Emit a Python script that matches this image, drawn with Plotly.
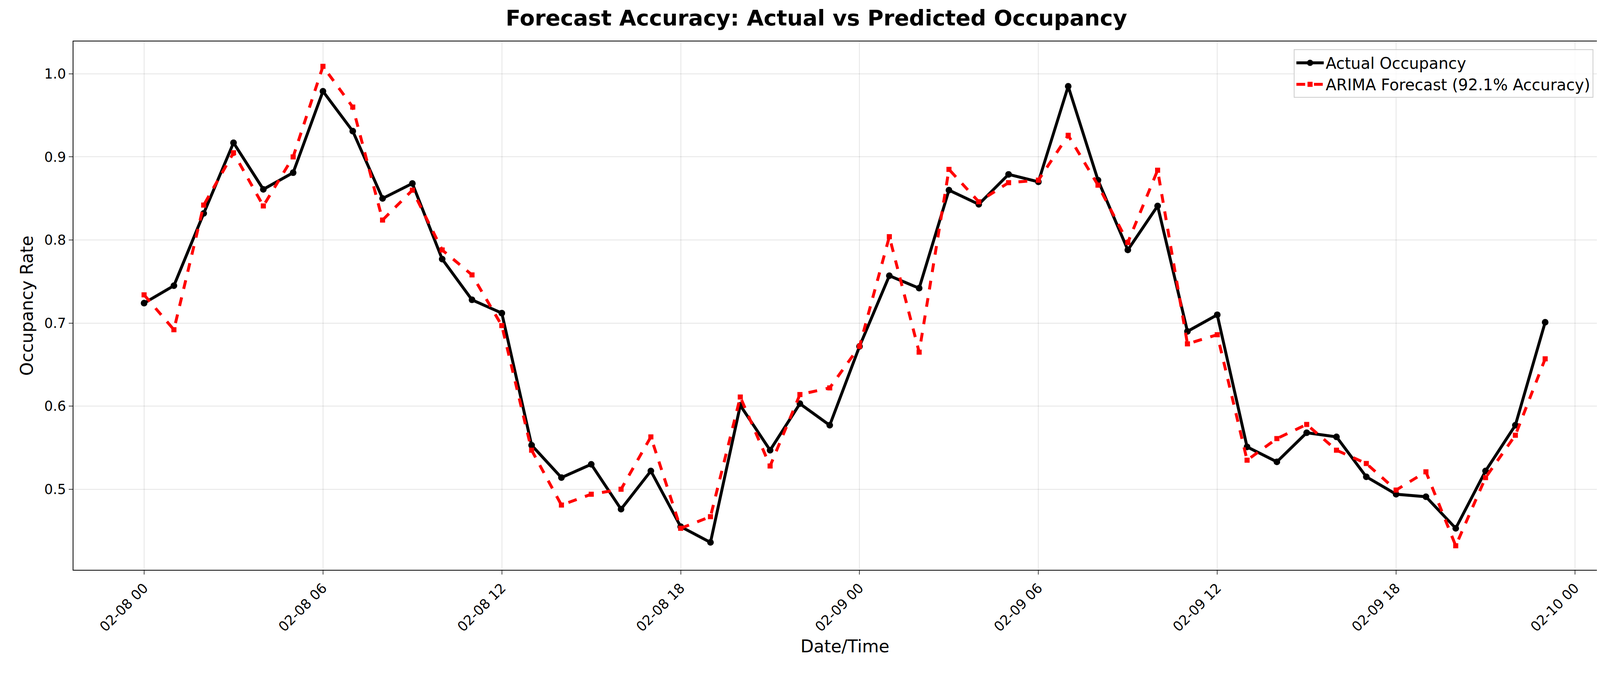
import plotly.graph_objects as go
import pandas as pd

times = pd.date_range("2024-02-08 00:00", periods=48, freq="h")
actual = [0.724,0.745,0.832,0.917,0.861,0.881,0.979,0.931,0.850,0.868,0.777,0.728,
          0.712,0.553,0.514,0.530,0.476,0.522,0.455,0.436,0.601,0.547,0.603,0.577,
          0.672,0.757,0.742,0.860,0.843,0.879,0.870,0.985,0.872,0.788,0.841,0.690,
          0.710,0.551,0.533,0.568,0.563,0.515,0.494,0.491,0.453,0.522,0.577,0.701]
forecast = [0.734,0.692,0.842,0.905,0.841,0.900,1.009,0.960,0.824,0.860,0.788,0.758,
            0.697,0.547,0.481,0.494,0.500,0.563,0.453,0.467,0.611,0.528,0.614,0.622,
            0.672,0.804,0.665,0.885,0.846,0.869,0.872,0.926,0.866,0.797,0.884,0.675,
            0.686,0.535,0.561,0.578,0.547,0.531,0.499,0.521,0.432,0.514,0.565,0.657]

fig = go.Figure()
fig.add_trace(go.Scatter(x=times, y=actual, mode="lines+markers", name="Actual Occupancy",
                         line=dict(color="black", width=7.5),
                         marker=dict(symbol="circle", size=17, color="black")))
fig.add_trace(go.Scatter(x=times, y=forecast, mode="lines+markers", name="ARIMA Forecast (92.1% Accuracy)",
                         line=dict(color="red", width=7.5, dash="dash"),
                         marker=dict(symbol="square", size=13, color="red")))

font = "DejaVu Sans"
fig.update_layout(
    width=4164, height=1768, plot_bgcolor="white", paper_bgcolor="white",
    font=dict(family=font, size=35, color="black"),
    margin=dict(l=180, r=34, t=98, b=318),
    title=dict(text="<b>Forecast Accuracy: Actual vs Predicted Occupancy</b>", x=0.5, xanchor="center",
               y=0.99, yanchor="top", font=dict(size=56)),
    legend=dict(x=0.985, y=0.985, xanchor="right", yanchor="top", bgcolor="rgba(255,255,255,0.8)",
                bordercolor="#cccccc", borderwidth=2, font=dict(size=40), itemwidth=70),
    showlegend=True,
)
fig.update_xaxes(type="date",
                 range=[pd.Timestamp("2024-02-08 00:00") - pd.Timedelta(hours=2.37),
                        pd.Timestamp("2024-02-08 00:00") + pd.Timedelta(hours=49.39)],
                 dtick=6*3600*1000, tick0="2024-02-08 00:00", tickformat="%m-%d %H", tickangle=-45,
                 showgrid=True, gridcolor="rgba(0,0,0,0.1)", gridwidth=2,
                 showline=True, linecolor="black", linewidth=2, mirror=True,
                 ticks="outside", ticklen=10, tickwidth=2,
                 title=dict(text="Date/Time", font=dict(size=44)))
fig.update_yaxes(range=[0.403, 1.039], dtick=0.1, tickformat=".1f",
                 showgrid=True, gridcolor="rgba(0,0,0,0.1)", gridwidth=2,
                 showline=True, linecolor="black", linewidth=2, mirror=True,
                 ticks="outside", ticklen=10, tickwidth=2, zeroline=False,
                 title=dict(text="Occupancy Rate", font=dict(size=44)))
fig.write_html("out.html")
